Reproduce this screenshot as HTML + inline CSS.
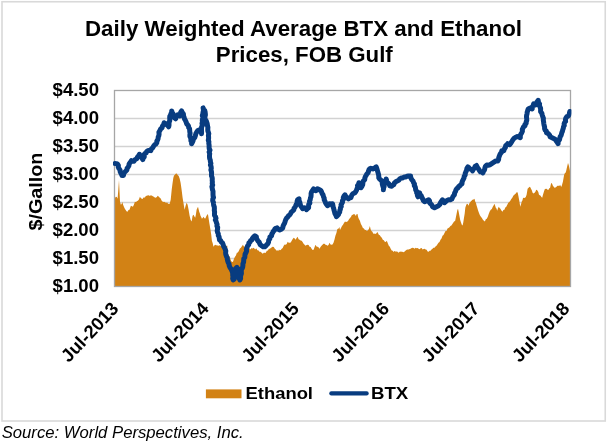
<!DOCTYPE html>
<html><head><meta charset="utf-8"><style>
html,body{margin:0;padding:0;background:#fff;}
body{width:607px;height:442px;overflow:hidden;position:relative;font-family:"Liberation Sans",sans-serif;}
svg{position:absolute;left:0;top:0;will-change:transform;}
text{font-family:"Liberation Sans",sans-serif;fill:#000;}
.ax{font-size:18.2px;font-weight:bold;}
.title{font-size:22px;font-weight:bold;}
.src{font-size:16px;font-style:italic;}
</style></head><body>
<svg width="607" height="442" viewBox="0 0 607 442">
<rect x="0" y="0" width="607" height="442" fill="#fff"/>
<rect x="2" y="1.75" width="603.25" height="419.25" fill="#fff" stroke="#d9d9d9" stroke-width="1.6"/>
<text x="85" y="36.4" textLength="437" lengthAdjust="spacingAndGlyphs" class="title">Daily Weighted Average BTX and Ethanol</text>
<text x="215.8" y="62.2" textLength="177" lengthAdjust="spacingAndGlyphs" class="title">Prices, FOB Gulf</text>
<line x1="114.5" x2="570.5" y1="118.5" y2="118.5" stroke="#d2d2d2" stroke-width="1.3"/><line x1="114.5" x2="570.5" y1="146.5" y2="146.5" stroke="#d2d2d2" stroke-width="1.3"/><line x1="114.5" x2="570.5" y1="174.5" y2="174.5" stroke="#d2d2d2" stroke-width="1.3"/><line x1="114.5" x2="570.5" y1="202.5" y2="202.5" stroke="#d2d2d2" stroke-width="1.3"/><line x1="114.5" x2="570.5" y1="230.5" y2="230.5" stroke="#d2d2d2" stroke-width="1.3"/><line x1="114.5" x2="570.5" y1="258.5" y2="258.5" stroke="#d2d2d2" stroke-width="1.3"/>
<path d="M114.5,286.5 L115.0,197.8 L116.0,196.8 L116.8,196.9 L117.6,198.8 L118.3,189.9 L119.0,179.9 L120.0,201.7 L120.9,204.7 L121.6,204.1 L122.3,202.1 L123.1,204.7 L123.9,206.7 L124.7,208.6 L125.5,209.7 L126.5,211.3 L127.5,211.7 L128.5,210.0 L129.5,209.7 L130.2,207.8 L130.9,205.7 L131.9,206.2 L132.9,206.7 L133.9,204.8 L134.9,201.7 L135.6,202.0 L136.4,201.8 L137.1,201.1 L137.9,200.7 L138.9,199.5 L139.9,196.8 L140.8,198.1 L141.8,198.8 L142.6,198.9 L143.3,197.8 L144.1,197.2 L144.8,197.8 L145.8,196.1 L146.8,195.8 L147.6,195.4 L148.3,194.9 L149.1,196.1 L149.8,195.4 L150.8,195.5 L151.8,195.4 L152.8,196.3 L153.8,196.8 L154.8,197.5 L155.8,197.8 L156.8,197.1 L157.8,195.8 L158.8,196.7 L159.8,197.8 L160.7,198.4 L161.7,200.7 L162.5,201.6 L163.2,201.9 L164.0,201.8 L164.7,202.1 L165.5,202.5 L166.2,203.0 L167.0,202.3 L167.7,203.3 L168.7,204.0 L169.7,203.7 L170.7,199.8 L171.7,189.8 L172.5,183.4 L173.3,177.9 L174.0,175.6 L174.7,174.9 L175.7,173.8 L176.7,173.5 L177.7,175.1 L178.7,175.9 L179.7,178.8 L180.6,182.8 L181.6,189.8 L182.6,197.8 L183.6,203.7 L184.6,209.7 L185.6,205.7 L186.6,202.7 L187.6,204.7 L188.6,209.7 L189.6,215.7 L190.6,219.7 L191.6,221.6 L192.6,215.7 L193.6,214.7 L194.4,216.6 L195.2,217.7 L195.9,214.5 L196.6,209.7 L197.3,208.2 L198.0,206.7 L199.2,211.7 L199.9,213.5 L200.5,215.7 L201.2,217.1 L201.9,218.7 L202.7,218.0 L203.5,216.7 L204.3,218.1 L205.1,218.7 L205.8,217.4 L206.5,215.7 L207.2,214.9 L207.9,213.7 L209.1,221.6 L209.5,223.9 L210.5,229.9 L211.2,234.6 L211.9,240.8 L212.7,243.2 L213.5,246.8 L214.5,245.3 L215.5,244.8 L216.2,245.5 L217.0,244.9 L217.7,245.7 L218.5,245.8 L219.2,245.2 L220.0,245.5 L220.7,246.1 L221.4,246.8 L222.2,246.9 L222.9,246.8 L223.7,246.7 L224.4,246.2 L225.2,245.7 L225.9,246.0 L226.7,245.8 L227.4,245.8 L227.0,251.8 L228.0,253.7 L229.0,255.7 L230.0,257.5 L231.0,260.7 L232.0,261.9 L233.0,261.7 L234.0,258.7 L235.0,256.7 L235.9,255.6 L236.9,252.8 L237.9,252.5 L238.9,250.8 L239.9,248.4 L240.9,247.8 L241.9,246.2 L242.9,244.8 L243.9,246.4 L244.9,246.8 L245.9,248.6 L246.9,248.8 L247.6,248.7 L248.4,248.4 L249.1,248.3 L249.9,248.8 L250.6,249.4 L251.4,248.0 L252.1,248.5 L252.9,248.2 L253.6,247.7 L254.4,248.5 L255.1,249.4 L255.8,248.8 L256.6,248.6 L257.3,250.3 L258.1,250.3 L258.8,250.8 L259.8,252.0 L260.8,251.8 L261.8,253.1 L262.8,253.8 L263.8,252.8 L264.8,252.8 L265.5,253.0 L266.3,251.7 L267.0,250.4 L267.8,250.8 L268.8,248.9 L269.8,248.8 L270.5,248.3 L271.3,247.7 L272.0,246.9 L272.8,246.8 L273.8,247.1 L274.8,248.8 L275.7,249.5 L276.7,250.8 L277.5,250.3 L278.2,251.1 L279.0,249.4 L279.7,250.2 L280.7,249.9 L281.7,248.8 L282.7,247.9 L283.7,245.8 L284.7,244.6 L285.7,244.8 L286.7,244.1 L287.7,241.8 L288.7,242.7 L289.7,242.8 L290.7,242.5 L291.7,240.8 L292.7,238.9 L293.7,237.8 L294.7,238.6 L295.6,239.8 L296.6,238.1 L297.6,236.8 L298.6,239.2 L299.6,239.8 L300.6,240.5 L301.6,240.8 L302.6,242.1 L303.6,243.8 L304.6,244.7 L305.6,245.8 L306.6,244.9 L307.6,244.8 L308.6,245.0 L309.6,246.8 L310.6,247.1 L311.6,248.8 L312.6,249.9 L313.6,249.8 L314.6,246.9 L315.5,244.8 L316.5,246.6 L317.5,246.8 L318.5,247.3 L319.5,248.8 L320.5,246.9 L321.5,245.8 L322.5,244.8 L323.5,243.8 L324.5,243.7 L325.5,244.8 L326.5,245.1 L327.5,245.8 L328.5,245.1 L329.5,242.8 L330.5,244.5 L331.5,244.8 L332.5,244.4 L333.5,242.8 L334.5,239.6 L335.4,235.8 L336.4,233.1 L337.4,228.9 L338.4,228.7 L339.4,226.9 L340.0,229.9 L341.0,228.0 L342.0,225.9 L343.0,224.8 L344.0,222.9 L345.0,221.6 L346.0,221.9 L347.0,221.8 L348.0,220.9 L349.0,219.3 L350.0,217.9 L350.9,216.9 L351.9,214.9 L352.9,214.7 L353.9,214.0 L354.9,214.6 L355.9,215.9 L356.7,214.1 L357.5,214.0 L358.2,217.2 L358.9,218.9 L359.9,220.7 L360.9,223.9 L361.9,225.8 L362.9,227.9 L363.9,228.6 L364.9,229.9 L365.9,230.0 L366.9,230.9 L367.9,230.3 L368.9,228.9 L369.9,225.9 L370.6,229.2 L371.4,230.9 L372.2,231.4 L373.0,233.1 L373.8,233.9 L374.8,233.5 L375.8,233.9 L376.6,233.0 L377.4,231.9 L378.1,233.2 L378.8,234.8 L379.8,235.2 L380.8,236.8 L381.8,237.7 L382.8,239.8 L383.8,240.3 L384.8,241.8 L385.8,242.0 L386.8,240.8 L387.8,243.3 L388.8,245.8 L389.8,246.8 L390.7,248.8 L391.7,250.5 L392.7,250.8 L393.5,251.9 L394.2,251.2 L395.0,250.9 L395.7,251.8 L396.5,251.5 L397.2,251.5 L398.0,252.2 L398.7,252.8 L399.5,251.8 L400.2,251.8 L400.9,251.6 L401.7,251.8 L402.4,251.8 L403.2,252.3 L403.9,251.9 L404.7,251.4 L405.7,250.4 L406.7,249.8 L407.7,249.4 L408.7,249.4 L409.7,249.1 L410.6,248.8 L411.6,248.1 L412.6,247.8 L413.6,248.0 L414.6,248.8 L415.6,247.7 L416.6,248.2 L417.6,248.1 L418.6,248.8 L419.6,249.3 L420.6,248.2 L421.6,248.1 L422.6,249.4 L423.6,249.1 L424.6,248.8 L425.6,249.5 L426.6,249.8 L427.6,251.4 L428.6,251.8 L429.6,250.8 L430.5,250.8 L431.5,249.4 L432.5,248.8 L433.5,247.8 L434.5,247.8 L435.5,246.6 L436.5,245.8 L437.5,244.2 L438.5,242.8 L439.5,242.1 L440.5,239.8 L441.5,238.5 L442.5,235.8 L443.5,235.0 L444.5,232.9 L445.5,231.0 L446.5,230.9 L447.5,228.5 L448.5,227.9 L449.5,227.3 L450.4,225.9 L451.4,225.6 L452.4,223.9 L453.4,222.4 L454.4,220.9 L455.0,221.6 L455.8,217.8 L456.6,213.7 L457.3,210.3 L458.0,208.7 L458.7,212.0 L459.4,215.7 L460.2,219.9 L461.0,222.6 L461.8,224.7 L462.6,225.6 L463.3,222.3 L464.0,217.7 L464.7,213.5 L465.3,207.7 L466.1,205.3 L466.9,203.7 L467.7,204.0 L468.5,205.7 L469.5,203.1 L470.5,201.7 L471.5,200.8 L472.5,199.8 L473.5,199.6 L474.5,198.8 L475.2,201.5 L475.9,202.7 L476.6,205.6 L477.3,207.7 L478.1,210.5 L478.9,212.7 L479.9,215.2 L480.9,216.7 L481.9,218.1 L482.9,219.7 L483.9,220.7 L484.9,221.6 L485.8,219.3 L486.8,218.7 L487.8,216.7 L488.8,213.7 L489.8,211.2 L490.8,209.7 L491.8,209.0 L492.8,206.7 L493.6,205.5 L494.4,203.7 L495.1,205.4 L495.8,207.7 L496.5,208.5 L497.2,210.7 L498.0,208.3 L498.8,206.7 L499.6,208.0 L500.4,208.7 L501.4,210.6 L502.4,211.7 L503.4,210.0 L504.4,209.7 L505.3,207.4 L506.3,206.7 L507.3,204.8 L508.3,202.7 L509.3,201.9 L510.3,200.7 L511.3,199.1 L512.3,197.8 L513.3,195.8 L514.3,194.8 L515.3,194.0 L516.3,192.8 L517.0,191.9 L517.7,192.8 L518.4,195.9 L519.1,199.8 L520.3,206.7 L521.0,204.2 L521.7,201.7 L522.4,200.6 L523.1,197.8 L524.1,198.0 L525.0,197.8 L525.8,197.0 L526.6,194.8 L527.6,188.8 L528.6,187.8 L529.6,186.8 L530.3,187.3 L531.0,188.8 L531.8,190.3 L532.6,192.8 L533.6,193.6 L534.6,192.8 L535.4,191.7 L536.2,189.8 L536.9,190.0 L537.6,190.8 L538.3,191.9 L539.0,194.8 L539.8,195.3 L540.6,195.8 L541.4,197.1 L542.2,197.8 L542.9,195.1 L543.6,192.8 L544.3,190.4 L545.0,188.8 L545.9,189.1 L546.9,188.8 L547.7,190.1 L548.5,189.8 L549.3,188.3 L550.1,187.8 L550.8,184.5 L551.5,182.8 L552.2,184.0 L552.9,185.8 L553.7,186.7 L554.5,187.8 L555.5,187.6 L556.5,186.8 L557.5,185.8 L558.5,185.8 L559.3,185.9 L560.1,184.8 L560.8,186.3 L561.5,186.8 L562.2,184.3 L562.9,181.8 L564.1,174.9 L564.8,173.3 L565.4,172.9 L566.1,171.2 L566.8,167.9 L568.0,162.9 L568.7,165.1 L569.4,167.9 L570.4,172.9 L570.5,286.5Z" fill="#d28215"/>
<rect x="114.5" y="90.5" width="456" height="196" fill="none" stroke="#a6a6a6" stroke-width="1.3"/>
<clipPath id="cp"><rect x="113" y="88" width="458.4" height="202"/></clipPath>
<path clip-path="url(#cp)" d="M115.0,163.6 L116.3,163.7 L117.6,164.2 L118.4,165.6 L118.3,167.2 L119.0,168.6 L120.0,169.9 L120.2,171.7 L120.9,173.2 L121.6,174.3 L121.9,175.5 L123.5,175.5 L123.8,173.5 L124.9,171.9 L125.9,170.9 L126.9,169.9 L127.1,168.3 L128.2,167.0 L128.9,165.6 L129.1,164.1 L129.8,162.9 L130.8,161.8 L131.5,160.6 L132.6,161.3 L133.9,161.2 L135.1,159.6 L136.9,158.6 L137.5,157.0 L138.7,155.8 L139.5,154.3 L139.8,155.7 L141.0,156.6 L141.8,157.6 L142.8,159.6 L143.2,158.1 L144.3,156.8 L143.9,155.0 L144.8,153.7 L146.1,152.9 L146.7,151.5 L147.8,150.7 L149.3,150.3 L150.8,150.7 L151.4,149.0 L152.8,147.7 L153.6,146.1 L154.8,144.7 L156.0,144.0 L156.8,142.7 L156.8,141.2 L157.6,140.0 L158.1,138.6 L158.2,137.1 L158.8,135.8 L159.1,134.1 L158.9,132.3 L159.8,130.8 L160.6,129.0 L162.1,127.8 L162.5,126.0 L163.7,124.5 L164.1,122.8 L165.5,123.7 L166.7,124.8 L167.9,125.7 L168.7,126.8 L169.0,125.3 L169.0,123.8 L169.0,122.3 L169.7,120.9 L169.8,119.4 L169.7,117.8 L169.8,116.4 L170.6,115.1 L170.9,113.7 L171.7,112.4 L171.7,110.9 L172.1,112.6 L173.2,114.1 L173.7,115.9 L174.2,117.6 L175.7,118.8 L176.0,117.3 L176.9,116.1 L177.7,114.9 L179.7,115.9 L180.6,114.3 L180.6,112.4 L181.6,110.9 L182.3,112.5 L183.4,114.0 L183.6,115.9 L184.1,117.6 L184.7,119.3 L185.6,120.8 L186.2,122.2 L186.6,123.7 L187.6,124.8 L188.5,126.0 L188.7,127.6 L189.6,128.8 L189.7,130.3 L189.8,131.8 L190.1,133.3 L189.9,134.8 L189.9,136.3 L190.6,137.7 L190.9,139.2 L190.9,140.8 L191.8,142.1 L191.6,143.7 L192.5,142.1 L193.1,140.5 L193.6,138.7 L194.7,137.7 L195.2,136.2 L195.6,134.8 L196.0,133.3 L196.8,132.0 L197.6,130.8 L199.6,129.8 L200.0,131.2 L201.3,132.2 L201.5,133.8 L201.6,132.1 L201.5,130.3 L201.5,128.6 L201.6,126.9 L202.5,125.3 L202.0,123.5 L202.5,121.8 L202.3,120.3 L202.6,118.7 L203.1,117.2 L202.3,115.6 L202.8,114.1 L203.0,112.5 L203.4,111.0 L203.4,109.5 L203.1,107.9 L203.4,109.4 L204.7,110.4 L205.1,111.9 L205.3,113.5 L205.4,115.0 L204.9,116.7 L204.9,118.3 L205.5,119.8 L206.4,121.2 L206.9,122.7 L207.3,124.2 L207.5,125.8 L207.9,127.4 L207.8,129.0 L207.8,130.6 L208.3,132.1 L208.8,133.7 L208.4,135.3 L208.6,136.9 L208.6,138.5 L208.3,140.2 L208.9,141.7 L208.8,143.4 L209.1,145.1 L209.1,146.8 L209.2,148.6 L210.0,150.2 L209.1,152.0 L209.7,153.7 L209.5,155.3 L209.5,156.9 L209.7,158.6 L210.3,160.1 L210.4,161.8 L210.9,163.4 L210.4,165.0 L211.1,166.6 L211.3,168.2 L210.9,169.9 L211.4,171.4 L211.6,172.8 L211.5,174.4 L211.5,175.9 L212.1,177.4 L212.3,178.9 L212.2,180.5 L212.4,182.0 L212.2,183.6 L212.7,185.1 L211.9,186.7 L212.3,188.3 L212.5,189.8 L213.0,191.3 L213.0,192.9 L213.0,194.4 L213.1,196.0 L213.5,197.5 L212.8,199.1 L212.7,200.7 L213.4,202.2 L213.5,203.7 L213.7,205.4 L214.3,207.0 L214.4,208.7 L214.3,210.3 L214.6,212.0 L214.5,213.7 L214.5,215.3 L215.5,216.7 L216.0,218.2 L215.3,219.9 L216.1,221.4 L216.5,222.9 L217.1,224.4 L216.9,226.0 L217.7,227.5 L217.5,229.2 L217.2,230.8 L217.6,232.4 L218.3,233.9 L218.3,235.4 L219.1,236.8 L219.3,238.3 L219.5,239.8 L220.7,240.6 L221.2,242.0 L222.4,242.8 L223.1,244.5 L223.6,246.2 L224.6,247.8 L225.2,249.4 L225.8,251.0 L225.6,252.8 L225.8,254.5 L226.4,256.2 L227.2,257.7 L227.3,259.4 L227.7,261.0 L228.2,262.6 L229.1,264.0 L229.2,265.7 L230.0,267.4 L231.1,268.9 L231.8,270.7 L232.5,272.1 L232.7,273.7 L232.7,275.3 L233.0,276.9 L232.7,278.5 L233.2,280.0 L234.2,279.1 L234.4,277.6 L234.5,276.1 L235.2,274.7 L235.5,273.2 L235.6,271.7 L235.2,270.1 L235.5,268.7 L236.9,267.3 L237.8,268.6 L238.3,270.1 L238.5,271.7 L239.1,273.3 L239.4,275.0 L239.2,276.7 L239.2,278.4 L239.9,280.0 L240.6,278.4 L240.5,276.7 L240.9,275.0 L241.4,273.4 L241.3,271.7 L241.2,270.0 L242.1,268.5 L242.7,267.0 L242.9,265.4 L242.9,263.7 L243.6,262.2 L243.7,260.5 L243.8,258.8 L244.8,257.4 L244.9,255.7 L245.1,254.1 L246.0,252.6 L246.6,251.1 L246.4,249.3 L246.9,247.8 L247.5,246.1 L248.7,244.6 L248.9,242.8 L250.1,242.0 L250.6,240.6 L251.9,239.8 L252.5,238.2 L253.5,236.9 L254.9,235.8 L256.4,236.8 L256.5,238.3 L257.1,239.6 L257.8,240.8 L259.2,242.1 L259.8,243.8 L260.6,245.0 L261.8,245.8 L263.1,246.8 L264.8,246.8 L265.9,245.9 L266.7,244.7 L267.8,243.8 L268.5,242.2 L268.7,240.3 L269.8,238.8 L269.9,237.0 L271.6,235.7 L271.8,233.9 L272.7,232.7 L273.3,231.4 L274.4,230.4 L274.8,228.9 L275.9,228.3 L277.1,227.9 L278.2,229.2 L279.7,229.9 L281.4,229.2 L282.7,227.9 L283.1,226.1 L283.8,224.5 L284.7,222.9 L285.2,221.2 L285.8,219.5 L286.7,217.9 L287.8,217.0 L288.5,215.8 L289.7,214.9 L290.6,213.6 L291.3,212.0 L292.7,211.0 L293.8,210.0 L294.0,208.4 L294.9,207.2 L295.6,206.0 L296.2,204.5 L297.1,203.0 L297.1,201.3 L297.6,199.8 L299.0,198.8 L299.0,200.6 L299.8,202.2 L300.2,204.0 L300.6,205.7 L301.6,207.2 L302.6,208.7 L304.6,207.7 L306.0,208.3 L306.6,209.7 L307.5,208.7 L308.6,207.7 L308.6,206.1 L308.7,204.4 L309.9,203.0 L309.5,201.3 L310.2,199.8 L310.4,198.2 L311.0,196.6 L311.1,195.0 L311.1,193.4 L311.6,191.8 L312.6,190.3 L313.6,188.8 L314.5,189.8 L315.5,190.8 L316.8,190.0 L317.5,188.8 L319.5,189.8 L320.8,190.5 L321.5,191.8 L322.1,193.5 L323.1,195.0 L323.5,196.8 L324.2,198.2 L324.2,199.8 L325.0,201.2 L325.5,202.7 L326.4,204.3 L327.5,205.7 L328.7,204.9 L329.5,203.7 L331.0,204.2 L332.5,203.7 L332.9,205.3 L333.1,206.9 L333.7,208.5 L334.0,210.1 L334.5,211.7 L334.9,213.4 L335.8,215.0 L336.4,216.7 L337.5,215.7 L338.4,214.7 L338.8,213.3 L339.7,212.0 L339.8,210.6 L340.4,209.2 L340.4,207.7 L341.3,206.5 L341.0,204.9 L341.7,203.6 L342.5,202.3 L342.4,200.7 L343.4,199.4 L343.3,197.6 L344.0,196.1 L345.0,194.8 L346.0,196.8 L347.2,197.7 L348.4,198.8 L349.5,197.8 L350.9,197.8 L351.4,196.3 L351.9,194.9 L352.9,193.8 L354.9,192.8 L355.8,191.5 L356.5,190.3 L356.9,188.8 L357.8,187.5 L357.5,185.7 L358.6,184.4 L358.9,182.8 L359.4,184.6 L360.6,186.0 L360.9,187.8 L361.9,186.3 L362.7,184.7 L362.9,182.8 L363.3,181.1 L364.7,179.7 L364.9,177.9 L365.4,176.5 L366.2,175.2 L366.9,173.9 L368.0,172.8 L368.5,171.4 L368.9,169.9 L369.6,168.8 L370.8,168.3 L372.8,168.9 L374.8,167.9 L376.2,166.9 L376.8,168.6 L377.3,170.2 L377.8,171.9 L378.2,173.4 L378.6,174.8 L378.8,176.3 L378.8,177.9 L379.6,179.0 L380.8,179.9 L382.0,181.1 L382.2,182.8 L382.4,184.6 L382.9,186.3 L383.6,188.0 L383.4,189.8 L383.5,188.2 L384.1,186.6 L384.2,185.0 L384.0,183.4 L384.8,181.8 L386.0,180.6 L386.2,178.9 L386.4,180.3 L386.7,181.7 L387.8,182.8 L389.1,184.1 L389.8,185.8 L391.7,186.2 L392.6,185.3 L393.7,184.8 L394.3,183.1 L395.7,181.8 L397.7,180.8 L398.9,180.1 L399.7,178.9 L401.1,178.1 L402.7,177.9 L404.1,177.0 L405.7,176.9 L407.1,176.3 L408.7,175.9 L410.6,175.9 L410.7,177.3 L411.2,178.6 L412.0,179.9 L413.1,181.2 L413.6,182.8 L414.5,184.0 L414.3,185.7 L415.2,186.8 L415.5,188.3 L415.7,189.9 L416.7,191.2 L416.6,192.8 L417.5,194.0 L417.4,195.5 L418.0,196.8 L418.5,195.4 L418.6,193.9 L419.6,192.8 L420.0,194.5 L421.2,195.8 L421.8,197.3 L422.6,198.8 L423.3,200.4 L424.6,201.7 L426.6,200.7 L428.6,199.8 L429.6,200.9 L429.5,202.6 L430.5,203.7 L431.9,205.0 L432.5,206.7 L434.5,207.7 L436.5,206.7 L438.5,205.7 L439.8,204.5 L440.5,202.7 L441.5,201.2 L442.5,199.8 L443.6,201.1 L444.5,202.7 L445.5,201.8 L446.5,200.7 L448.5,199.8 L450.4,199.8 L451.8,199.1 L452.4,197.8 L453.2,196.1 L454.4,194.8 L454.6,193.0 L455.5,191.5 L456.0,189.8 L456.8,188.6 L458.0,187.8 L458.7,186.5 L460.0,185.8 L460.7,184.6 L462.0,183.8 L462.0,182.2 L462.6,180.7 L463.3,179.3 L464.0,177.9 L464.2,176.3 L465.2,175.0 L465.2,173.3 L465.9,171.9 L466.6,170.2 L466.9,168.4 L467.9,166.9 L469.0,167.8 L469.9,168.9 L471.5,169.5 L472.5,170.9 L473.3,169.3 L474.5,167.9 L475.1,166.4 L476.5,165.5 L477.3,167.3 L478.5,168.9 L479.4,170.4 L480.5,171.9 L481.8,172.1 L482.9,172.9 L483.5,171.2 L484.6,169.7 L484.9,167.9 L485.5,166.2 L486.8,164.9 L488.3,165.3 L489.8,164.9 L491.3,163.9 L492.8,162.9 L494.3,161.9 L495.8,160.9 L497.8,160.9 L498.6,159.5 L498.7,157.8 L499.3,156.2 L499.8,154.7 L500.6,153.4 L501.6,152.2 L501.8,150.7 L503.8,150.7 L504.3,149.0 L505.4,147.5 L505.7,145.7 L506.9,144.9 L507.7,143.7 L509.7,144.7 L510.8,143.3 L511.7,141.7 L512.6,140.2 L513.7,138.7 L514.6,137.9 L515.7,137.3 L516.9,136.6 L518.3,136.7 L520.3,137.7 L520.3,136.0 L520.7,134.3 L521.7,132.8 L522.4,131.2 L522.3,129.4 L523.1,127.8 L523.8,126.5 L525.0,125.8 L525.0,124.3 L526.2,123.3 L526.2,121.8 L526.8,120.3 L526.7,118.7 L526.5,117.0 L526.6,115.4 L527.0,113.9 L527.2,112.1 L527.8,110.5 L528.2,108.9 L530.2,107.9 L532.2,108.9 L532.3,107.1 L533.1,105.6 L533.6,103.9 L535.6,104.9 L536.1,103.3 L537.0,101.9 L538.2,100.3 L538.4,102.3 L539.6,103.9 L539.3,105.5 L540.0,106.9 L540.6,108.3 L540.6,109.9 L540.6,111.7 L541.8,113.1 L542.2,114.9 L542.7,116.6 L543.4,118.2 L543.3,120.1 L543.6,121.8 L543.8,123.6 L544.1,125.3 L544.6,127.0 L544.6,128.8 L545.2,130.1 L546.4,131.2 L546.5,132.8 L548.5,133.8 L549.6,135.1 L550.1,136.7 L552.1,137.7 L554.1,138.7 L555.4,139.4 L556.1,140.7 L557.2,142.2 L558.1,143.7 L558.1,142.2 L558.5,140.9 L559.5,139.7 L559.8,138.2 L560.2,136.7 L561.1,135.3 L561.5,133.8 L561.9,132.4 L562.5,131.1 L562.8,129.6 L563.3,128.3 L563.5,126.8 L564.3,125.5 L564.1,124.0 L564.5,122.6 L565.6,121.4 L565.4,119.8 L565.8,118.2 L566.8,116.8 L568.4,115.9 L569.1,114.5 L569.5,113.0 L569.8,111.5" fill="none" stroke="#083c80" stroke-width="5.0" stroke-linejoin="round" stroke-linecap="round"/>
<text x="52.6" y="96.0" textLength="46.4" lengthAdjust="spacingAndGlyphs" class="ax">$4.50</text><text x="52.6" y="124.0" textLength="46.4" lengthAdjust="spacingAndGlyphs" class="ax">$4.00</text><text x="52.6" y="152.0" textLength="46.4" lengthAdjust="spacingAndGlyphs" class="ax">$3.50</text><text x="52.6" y="180.0" textLength="46.4" lengthAdjust="spacingAndGlyphs" class="ax">$3.00</text><text x="52.6" y="208.0" textLength="46.4" lengthAdjust="spacingAndGlyphs" class="ax">$2.50</text><text x="52.6" y="236.0" textLength="46.4" lengthAdjust="spacingAndGlyphs" class="ax">$2.00</text><text x="52.6" y="264.0" textLength="46.4" lengthAdjust="spacingAndGlyphs" class="ax">$1.50</text><text x="52.6" y="292.0" textLength="46.4" lengthAdjust="spacingAndGlyphs" class="ax">$1.00</text>
<text transform="translate(42.1,230.6) rotate(-90)" x="0" y="0" textLength="78" lengthAdjust="spacingAndGlyphs" class="ax" style="font-size:18.5px">$/Gallon</text>
<text transform="translate(119.7,309.6) rotate(-46.5)" x="-74" y="0" textLength="74" lengthAdjust="spacingAndGlyphs" class="ax" style="font-size:18.4px">Jul-2013</text><text transform="translate(209.9,309.6) rotate(-46.5)" x="-74" y="0" textLength="74" lengthAdjust="spacingAndGlyphs" class="ax" style="font-size:18.4px">Jul-2014</text><text transform="translate(300.1,309.6) rotate(-46.5)" x="-74" y="0" textLength="74" lengthAdjust="spacingAndGlyphs" class="ax" style="font-size:18.4px">Jul-2015</text><text transform="translate(390.3,309.6) rotate(-46.5)" x="-74" y="0" textLength="74" lengthAdjust="spacingAndGlyphs" class="ax" style="font-size:18.4px">Jul-2016</text><text transform="translate(480.5,309.6) rotate(-46.5)" x="-74" y="0" textLength="74" lengthAdjust="spacingAndGlyphs" class="ax" style="font-size:18.4px">Jul-2017</text><text transform="translate(570.7,309.6) rotate(-46.5)" x="-74" y="0" textLength="74" lengthAdjust="spacingAndGlyphs" class="ax" style="font-size:18.4px">Jul-2018</text>
<rect x="205.9" y="389.4" width="35.6" height="8.9" fill="#d28215"/>
<text x="245.5" y="399.1" textLength="67.5" lengthAdjust="spacingAndGlyphs" class="ax" style="font-size:17.3px">Ethanol</text>
<line x1="331.4" x2="366.6" y1="393.4" y2="393.4" stroke="#083c80" stroke-width="4.3" stroke-linecap="round"/>
<text x="371" y="399.1" textLength="37.3" lengthAdjust="spacingAndGlyphs" class="ax" style="font-size:17.3px">BTX</text>
<text x="1.7" y="437.8" textLength="242" lengthAdjust="spacingAndGlyphs" class="src">Source: World Perspectives, Inc.</text>
</svg>
</body></html>
